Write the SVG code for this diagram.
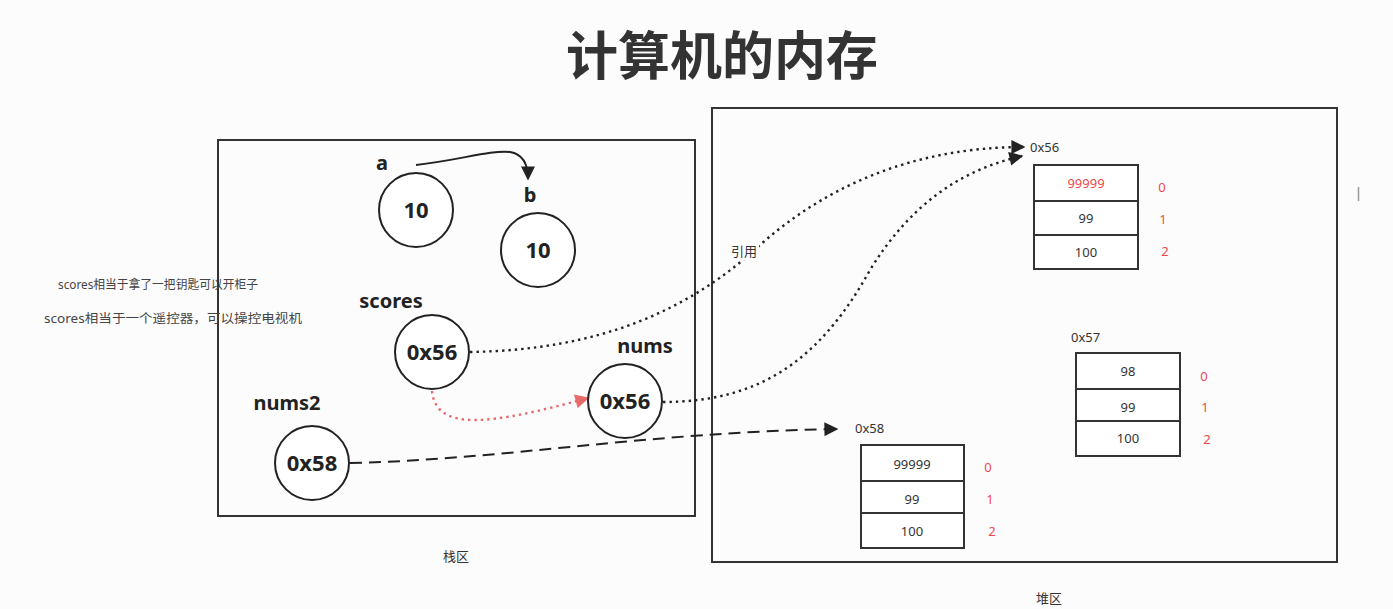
<svg xmlns="http://www.w3.org/2000/svg" width="1393" height="609" viewBox="0 0 1393 609">
<defs>
<style>
.t{font-family:"Noto Sans","Noto Sans CJK SC",sans-serif;fill:#333}
.b{font-weight:bold;fill:#222}
.s13{font-size:13px}
.red{fill:#f04848}
.circ{fill:#fff;stroke:#222;stroke-width:2}
.cell{fill:#fff;stroke:#333;stroke-width:2}
.area{fill:none;stroke:#333;stroke-width:2}
.conn{fill:none;stroke:#222;stroke-width:2}
.dot{stroke-width:2.4;stroke-dasharray:2.4 4}
</style>
<marker id="ahbig" viewBox="0 0 10 10" refX="9" refY="5" markerWidth="15" markerHeight="14" markerUnits="userSpaceOnUse" orient="auto"><path d="M0,0 L10,5 L0,10 z" fill="#222"/></marker>
<marker id="ahr" viewBox="0 0 10 10" refX="9" refY="5" markerWidth="15" markerHeight="14" markerUnits="userSpaceOnUse" orient="auto"><path d="M0,0 L10,5 L0,10 z" fill="#e86a6a"/></marker>
</defs>
<rect width="1393" height="609" fill="#fcfcfd"/>
<text class="t b" x="722" y="75" font-size="52" text-anchor="middle" style="fill:#333">计算机的内存</text>

<g id="stack-area">
<rect class="area" x="218" y="140" width="477" height="376"/>
<text class="t s13" x="456" y="561" text-anchor="middle">栈区</text>
</g>
<g id="heap-area">
<rect class="area" x="712" y="108" width="625" height="454"/>
<text class="t s13" x="1049" y="603" text-anchor="middle">堆区</text>
</g>

<g id="notes">
<text class="t" font-size="12.5" x="58" y="289" textLength="200" lengthAdjust="spacingAndGlyphs" style="fill:#444">scores相当于拿了一把钥匙可以开柜子</text>
<text class="t" font-size="12.5" x="44" y="323" textLength="258" lengthAdjust="spacingAndGlyphs" style="fill:#444">scores相当于一个遥控器，可以操控电视机</text>
</g>

<g id="connectors">
<path class="conn" d="M416,165 C460,160 490,150 510,152 C522,154 528,162 528,179" marker-end="url(#ahbig)"/>
<path class="conn dot" d="M470,352 C600,350 690,310 760,245 C850,165 950,147 1024,147" marker-end="url(#ahbig)"/>
<path class="conn dot" d="M663,402 C760,402 820,360 870,270 C910,205 960,170 1022,156" marker-end="url(#ahbig)"/>
<path class="conn dot" d="M432,391 C436,432 490,425 588,398" style="stroke:#e86a6a" marker-end="url(#ahr)"/>
<path class="conn" d="M350,463 C500,460 650,432 837,429" stroke-dasharray="12 7" marker-end="url(#ahbig)"/>
<rect x="729" y="242" width="30" height="18" fill="#fff"/>
<text class="t s13" x="731" y="256">引用</text>
</g>

<g id="node-a">
<circle class="circ" cx="416" cy="210" r="37"/>
<text class="t b" x="382" y="170" font-size="20" text-anchor="middle">a</text>
<text class="t b" x="416" y="218" font-size="22" text-anchor="middle">10</text>
</g>
<g id="node-b">
<circle class="circ" cx="538" cy="250" r="37"/>
<text class="t b" x="530" y="202" font-size="20" text-anchor="middle">b</text>
<text class="t b" x="538" y="258" font-size="22" text-anchor="middle">10</text>
</g>
<g id="node-scores">
<circle class="circ" cx="432" cy="352" r="37"/>
<text class="t b" x="391" y="308" font-size="20" text-anchor="middle">scores</text>
<text class="t b" x="432" y="360" font-size="22" text-anchor="middle">0x56</text>
</g>
<g id="node-nums">
<circle class="circ" cx="625" cy="401" r="37"/>
<text class="t b" x="645" y="353" font-size="20" text-anchor="middle">nums</text>
<text class="t b" x="625" y="409" font-size="22" text-anchor="middle">0x56</text>
</g>
<g id="node-nums2">
<circle class="circ" cx="312" cy="463" r="37"/>
<text class="t b" x="287" y="410" font-size="20" text-anchor="middle">nums2</text>
<text class="t b" x="312" y="471" font-size="22" text-anchor="middle">0x58</text>
</g>

<g id="array-0x56">
<text class="t s13" x="1030" y="152">0x56</text>
<rect class="cell" x="1034" y="165" width="104" height="36"/>
<rect class="cell" x="1034" y="201" width="104" height="34"/>
<rect class="cell" x="1034" y="235" width="104" height="34"/>
<text class="t s13 red" x="1086" y="188" text-anchor="middle">99999</text>
<text class="t s13" x="1086" y="223" text-anchor="middle">99</text>
<text class="t s13" x="1086" y="257" text-anchor="middle">100</text>
<text class="t s13 red" x="1162" y="192" text-anchor="middle">0</text>
<text class="t s13 red" x="1163" y="224" text-anchor="middle">1</text>
<text class="t s13 red" x="1165" y="256" text-anchor="middle">2</text>
</g>
<g id="array-0x57">
<text class="t s13" x="1071" y="342">0x57</text>
<rect class="cell" x="1076" y="353" width="104" height="36"/>
<rect class="cell" x="1076" y="389" width="104" height="32"/>
<rect class="cell" x="1076" y="421" width="104" height="35"/>
<text class="t s13" x="1128" y="376" text-anchor="middle">98</text>
<text class="t s13" x="1128" y="412" text-anchor="middle">99</text>
<text class="t s13" x="1128" y="443" text-anchor="middle">100</text>
<text class="t s13 red" x="1204" y="381" text-anchor="middle">0</text>
<text class="t s13 red" x="1205" y="412" text-anchor="middle">1</text>
<text class="t s13 red" x="1207" y="444" text-anchor="middle">2</text>
</g>
<g id="array-0x58">
<text class="t s13" x="855" y="433">0x58</text>
<rect class="cell" x="861" y="445" width="103" height="36"/>
<rect class="cell" x="861" y="481" width="103" height="32"/>
<rect class="cell" x="861" y="513" width="103" height="35"/>
<text class="t s13" x="912" y="469" text-anchor="middle">99999</text>
<text class="t s13" x="912" y="504" text-anchor="middle">99</text>
<text class="t s13" x="912" y="536" text-anchor="middle">100</text>
<text class="t s13 red" x="988" y="472" text-anchor="middle">0</text>
<text class="t s13 red" x="990" y="504" text-anchor="middle">1</text>
<text class="t s13 red" x="992" y="536" text-anchor="middle">2</text>
</g>
<line x1="1358.5" y1="187" x2="1358.5" y2="201" stroke="#999" stroke-width="1.5"/>
</svg>
